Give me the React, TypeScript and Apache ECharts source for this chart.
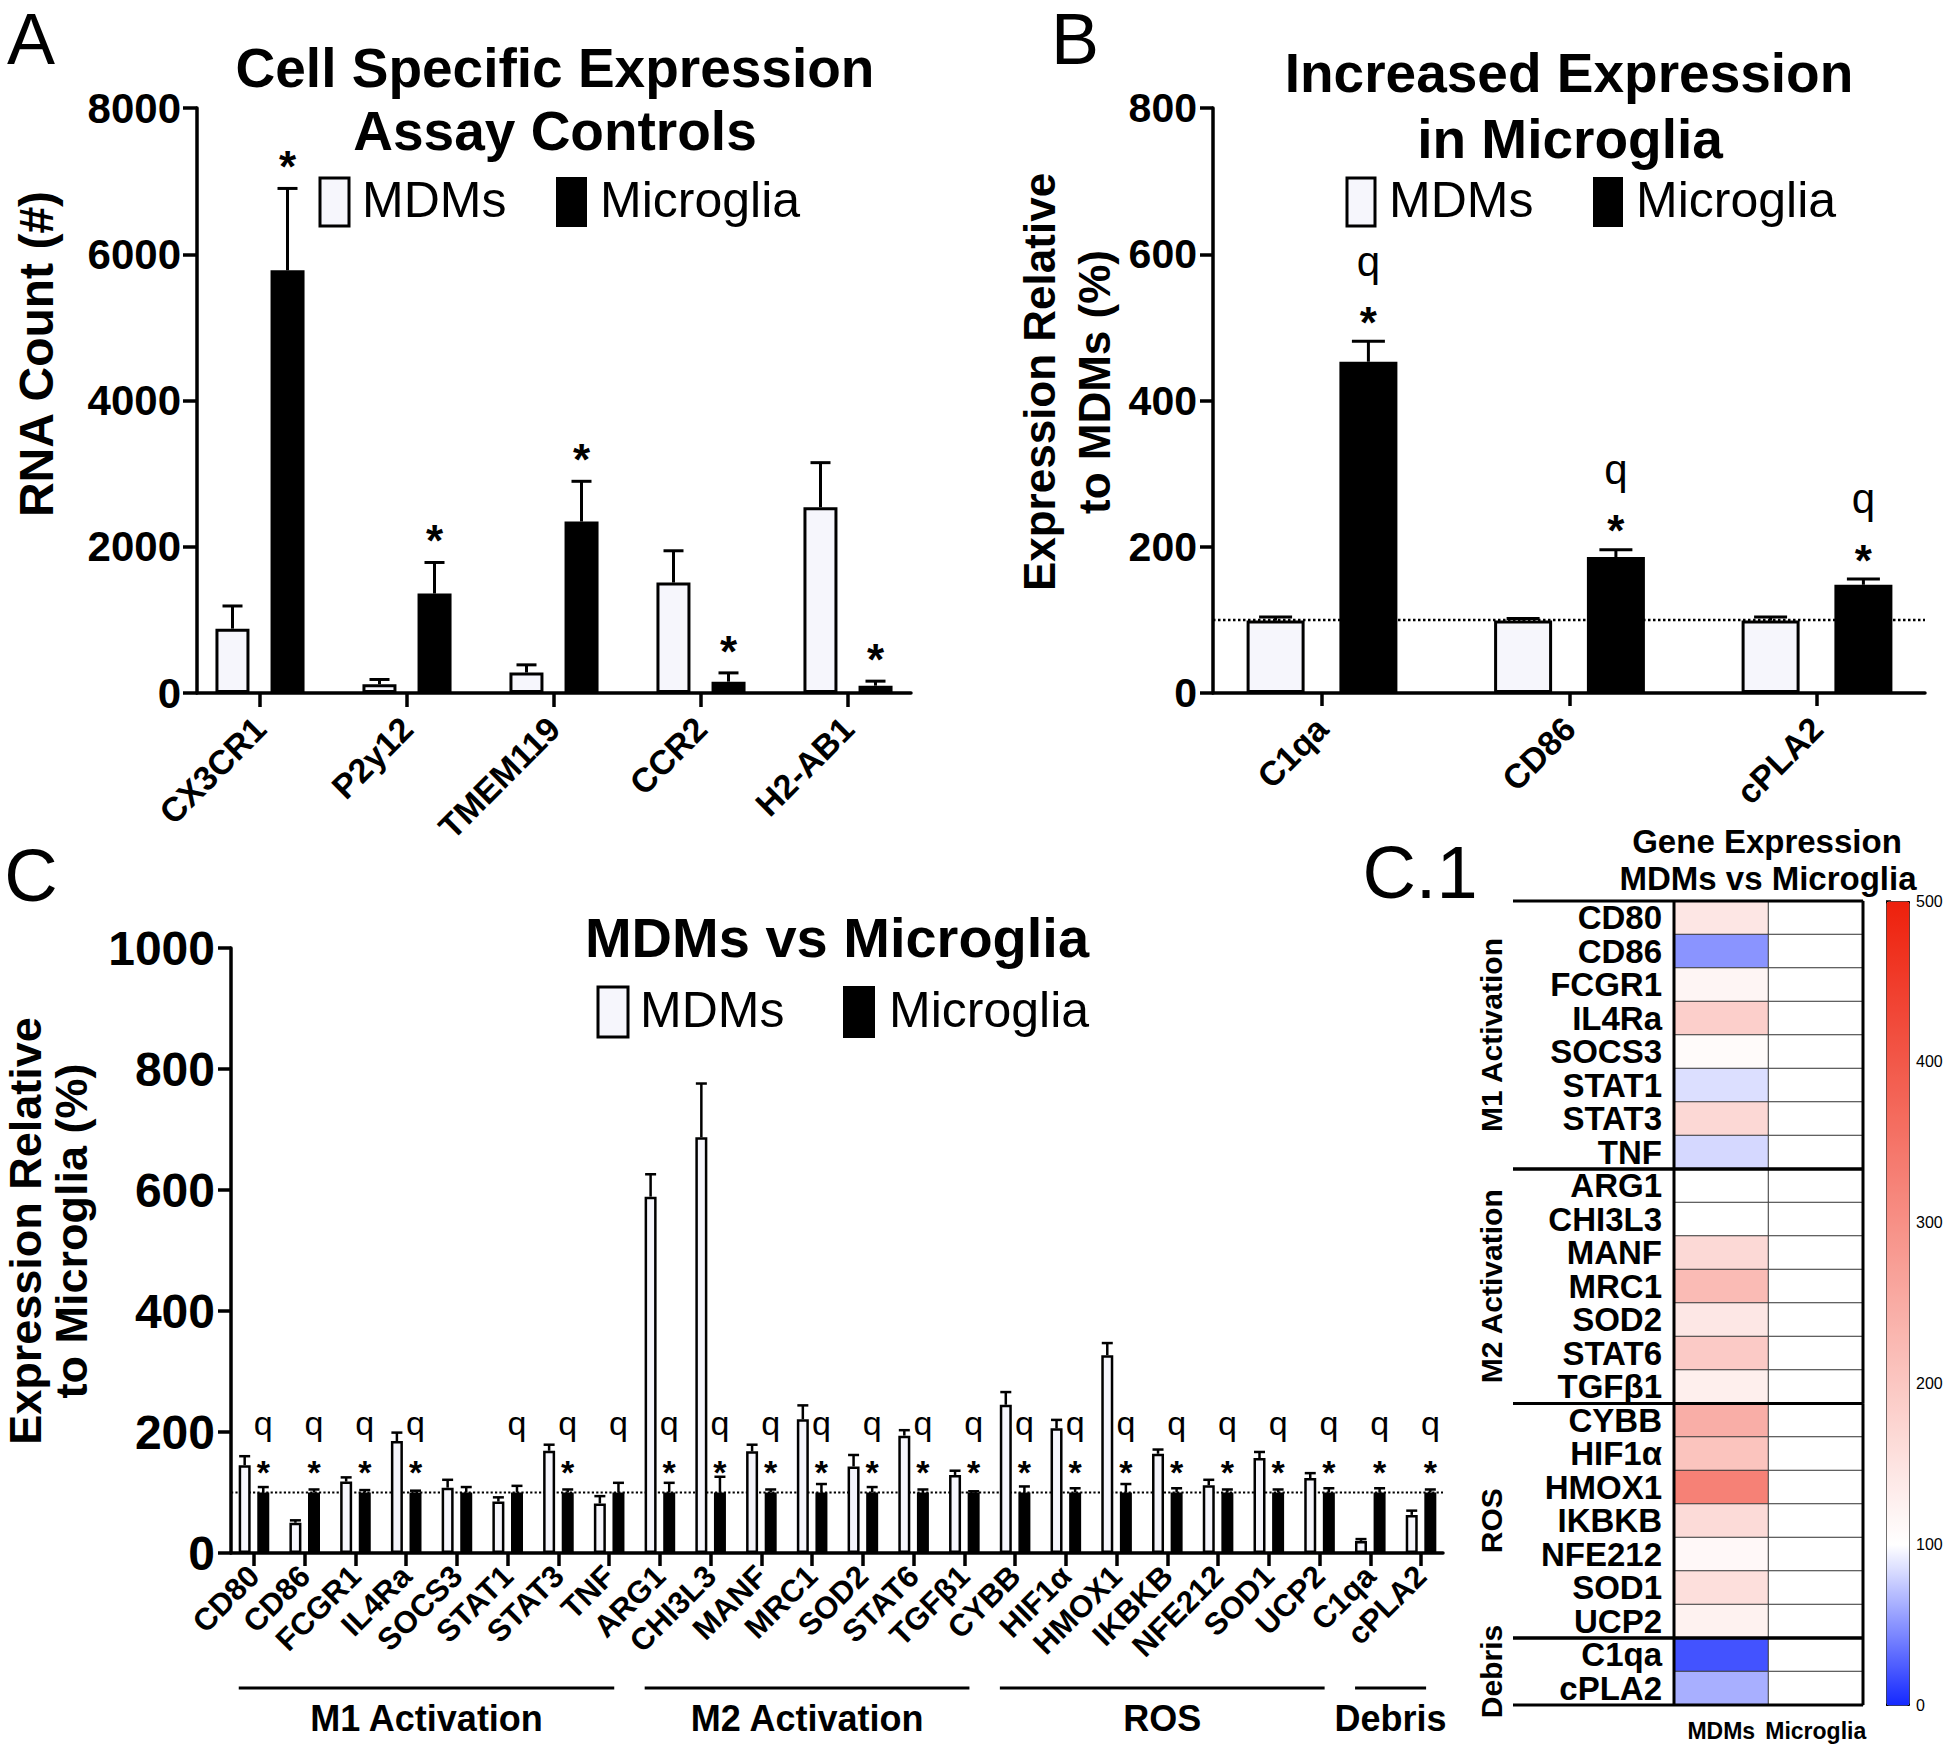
import React, { useEffect, useRef } from 'react';
import * as echarts from 'echarts';

const FONT = "'Liberation Sans', Arial, Helvetica, sans-serif";
const WHITE_FILL = '#f6f6fc';
const BLACK = '#000000';

// ---------- Panel A data ----------
const A_CATEGORIES = ['CX3CR1', 'P2y12', 'TMEM119', 'CCR2', 'H2-AB1'];
const A_MDMS = [880, 120, 280, 1510, 2540];
const A_MDMS_SEM = [310, 65, 105, 435, 610];
const A_MICROGLIA = [5780, 1360, 2345, 155, 100];
const A_MICROGLIA_SEM = [1120, 425, 550, 120, 62];
const A_STAR = [1, 1, 1, 1, 1];
const A_Q = [0, 0, 0, 0, 0];
const A_Y_MAX = 8000;
const A_Y_INTERVAL = 2000;

// ---------- Panel B data ----------
const B_CATEGORIES = ['C1qa', 'CD86', 'cPLA2'];
const B_MDMS = [99, 99, 99];
const B_MDMS_SEM = [5, 3, 5];
const B_MICROGLIA = [453, 186, 148];
const B_MICROGLIA_SEM = [28, 10, 8];
const B_STAR = [1, 1, 1];
const B_Q = [1, 1, 1];
const B_Y_MAX = 800;
const B_Y_INTERVAL = 200;
const REFERENCE_LEVEL = 100;

// ---------- Panel C data ----------
const C_CATEGORIES = ['CD80', 'CD86', 'FCGR1', 'IL4Ra', 'SOCS3', 'STAT1', 'STAT3', 'TNF',
  'ARG1', 'CHI3L3', 'MANF', 'MRC1', 'SOD2', 'STAT6', 'TGFβ1',
  'CYBB', 'HIF1α', 'HMOX1', 'IKBKB', 'NFE212', 'SOD1', 'UCP2',
  'C1qa', 'cPLA2'];
const C_MDMS = [145, 50, 118, 185, 108, 85, 169, 82, 589, 687, 168, 221, 143, 194, 129, 245, 206, 327, 164, 112, 157, 124, 20, 63];
const C_MDMS_SEM = [15, 4, 7, 14, 13, 7, 10, 12, 37, 89, 11, 23, 19, 9, 7, 21, 14, 20, 7, 9, 10, 8, 3, 7];
const C_MICROGLIA = [100, 100, 100, 100, 100, 100, 100, 100, 100, 100, 100, 100, 100, 100, 100, 100, 100, 100, 100, 100, 100, 100, 100, 100];
const C_MICROGLIA_SEM = [9, 5, 4, 3, 9, 11, 5, 16, 16, 26, 5, 14, 9, 5, 2, 10, 7, 14, 7, 5, 5, 7, 7, 5];
const C_Q = [1, 1, 1, 1, 0, 1, 1, 1, 1, 1, 1, 1, 1, 1, 1, 1, 1, 1, 1, 1, 1, 1, 1, 1];
const C_STAR = [1, 1, 1, 1, 0, 0, 1, 0, 1, 1, 1, 1, 1, 1, 1, 1, 1, 1, 1, 1, 1, 1, 1, 1];
const C_Y_MAX = 1000;
const C_Y_INTERVAL = 200;
const C_GROUPS = [
  { name: 'M1 Activation', start: 0, end: 7 },
  { name: 'M2 Activation', start: 8, end: 14 },
  { name: 'ROS', start: 15, end: 21 },
  { name: 'Debris', start: 22, end: 23 },
];

// ---------- Heatmap (C.1) ----------
const HEAT_COLUMNS = ['MDMs', 'Microglia'];
const HEAT_MAX = 500;
const HEAT_INTERVAL = 100;
const HEAT_COLORS = ['#1428ff', '#ffffff', '#fbc7c2', '#f79086', '#f25849', '#ee200c'];

// annotation heights in panel C (value units)
const C_Q_LEVEL = 204;
const C_STAR_LEVEL = 146;

const axisLine = { color: BLACK, width: 3.5 };

function textStyle(text: string, size: number, weight: string, align = 'center', extra: any = {}) {
  return {
    text, fill: BLACK, fontSize: size, fontWeight: weight, fontFamily: FONT,
    align, verticalAlign: 'middle', textAlign: align, textVerticalAlign: 'middle', ...extra,
  };
}

function gText(text: string, x: number, y: number, size: number, weight = 'bold', align = 'center', rotation = 0, extra: any = {}) {
  return { type: 'text', x, y, rotation, silent: true, z: 100, style: textStyle(text, size, weight, align, extra) };
}

function legendItems(x1: number, x2: number, tx1: number, tx2: number, y: number, w: number, h: number) {
  return [
    { type: 'rect', x: x1, y: y - h / 2, shape: { width: w, height: h }, silent: true, z: 100, style: { fill: WHITE_FILL, stroke: BLACK, lineWidth: 3 } },
    gText('MDMs', tx1, y - 2, 50, 'normal', 'left'),
    { type: 'rect', x: x2, y: y - h / 2, shape: { width: w, height: h }, silent: true, z: 100, style: { fill: BLACK, stroke: BLACK, lineWidth: 2 } },
    gText('Microglia', tx2, y - 2, 50, 'normal', 'left'),
  ];
}

function errorSeries(axisIdx: number, means: number[], sems: number[], offset: number, cap: number, lw: number) {
  return {
    type: 'custom', xAxisIndex: axisIdx, yAxisIndex: axisIdx, silent: true, clip: false, z: 3,
    data: means.map((m, i) => [i, m, m + sems[i]]),
    renderItem: (params: any, api: any) => {
      const base = api.coord([api.value(0), api.value(1)]);
      const top = api.coord([api.value(0), api.value(2)]);
      const x = base[0] + offset;
      return {
        type: 'group', children: [
          { type: 'line', shape: { x1: x, y1: base[1], x2: x, y2: top[1] }, style: { stroke: BLACK, lineWidth: lw } },
          { type: 'line', shape: { x1: x - cap / 2, y1: top[1], x2: x + cap / 2, y2: top[1] }, style: { stroke: BLACK, lineWidth: lw } },
        ],
      };
    },
  };
}

function sigSeriesAbove(axisIdx: number, means: number[], sems: number[], stars: number[], qs: number[], cfg: any) {
  return {
    type: 'custom', xAxisIndex: axisIdx, yAxisIndex: axisIdx, silent: true, clip: false, z: 4,
    data: means.map((m, i) => [i, m + sems[i]]),
    renderItem: (params: any, api: any) => {
      const i = params.dataIndex;
      const p = api.coord([api.value(0), api.value(1)]);
      const x = p[0] + cfg.offset;
      const starY = p[1] - cfg.starGap;
      const children: any[] = [];
      if (stars[i]) children.push({ type: 'text', x, y: starY + 0.23 * cfg.starSize, style: textStyle('*', cfg.starSize, 'bold') });
      if (qs[i]) {
        const qY = starY - cfg.qGap;
        children.push({ type: 'text', x, y: qY - 0.19 * cfg.qSize, style: textStyle('q', cfg.qSize, 'normal') });
      }
      return { type: 'group', children };
    },
  };
}

function sigSeriesFixed(axisIdx: number, stars: number[], qs: number[], cfg: any) {
  return {
    type: 'custom', xAxisIndex: axisIdx, yAxisIndex: axisIdx, silent: true, clip: false, z: 4,
    data: stars.map((s, i) => [i, 0]),
    renderItem: (params: any, api: any) => {
      const i = params.dataIndex;
      const ps = api.coord([api.value(0), C_STAR_LEVEL]);
      const pq = api.coord([api.value(0), C_Q_LEVEL]);
      const x = ps[0] + cfg.offset;
      const children: any[] = [];
      if (stars[i]) children.push({ type: 'text', x, y: ps[1] + 0.23 * cfg.starSize, style: textStyle('*', cfg.starSize, 'bold') });
      if (qs[i]) children.push({ type: 'text', x, y: pq[1] - 0.19 * cfg.qSize, style: textStyle('q', cfg.qSize, 'normal') });
      return { type: 'group', children };
    },
  };
}

function categoryAxis(gridIndex: number, data: string[], fontSize: number, tickLen: number, margin: number) {
  return {
    type: 'category', gridIndex, data,
    axisLine: { show: false },
    axisTick: { show: true, alignWithLabel: true, length: tickLen, lineStyle: axisLine },
    axisLabel: { rotate: 45, interval: 0, fontSize, fontWeight: 'bold', color: BLACK, fontFamily: FONT, margin, hideOverlap: false },
    splitLine: { show: false },
  };
}

function lineOnlyXAxis(gridIndex: number) {
  return {
    type: 'value', gridIndex, min: 0, max: 1,
    axisLine: { show: true, onZero: false, lineStyle: axisLine },
    axisTick: { show: false }, axisLabel: { show: false }, splitLine: { show: false },
  };
}

function valueYAxis(gridIndex: number, max: number, interval: number, fontSize: number, tickLen: number) {
  return {
    type: 'value', gridIndex, min: 0, max, interval,
    axisLine: { show: true, lineStyle: axisLine },
    axisTick: { show: true, length: tickLen, lineStyle: axisLine },
    axisLabel: { fontSize, fontWeight: 'bold', color: BLACK, fontFamily: FONT, margin: 16, formatter: (v: number) => String(v) },
    splitLine: { show: false },
  };
}

function hiddenYAxis(gridIndex: number, max: number) {
  return { type: 'value', gridIndex, min: 0, max, show: false };
}

function buildOption() {
  const grids = [
    { left: 186.5, top: 108, width: 735, height: 585 },   // 0 A data
    { left: 197, top: 108, width: 714, height: 585 },     // 1 A axes
    { left: 1198.25, top: 108, width: 742.5, height: 585 }, // 2 B data
    { left: 1213, top: 108, width: 712, height: 585 },    // 3 B axes
    { left: 228.6, top: 948, width: 1217.8, height: 605 }, // 4 C data
    { left: 231, top: 948, width: 1212, height: 605 },    // 5 C axes
    { left: 1674, top: 901, width: 189, height: 804 },    // 6 heatmap
    { left: 1886, top: 901, width: 23, height: 804 },     // 7 colorbar axis
  ].map((g) => ({ ...g, containLabel: false, outerBoundsMode: 'none' }));

  const xAxis: any[] = [
    categoryAxis(0, A_CATEGORIES, 34, 14, 30),
    lineOnlyXAxis(1),
    categoryAxis(2, B_CATEGORIES, 34, 13, 30),
    lineOnlyXAxis(3),
    categoryAxis(4, C_CATEGORIES, 31, 13, 18),
    lineOnlyXAxis(5),
    {
      type: 'category', gridIndex: 6, data: HEAT_COLUMNS,
      axisLine: { show: false }, axisTick: { show: false },
      axisLabel: { fontSize: 23, fontWeight: 'bold', color: BLACK, fontFamily: FONT, margin: 14, interval: 0, hideOverlap: false },
      splitLine: { show: false },
    },
    { type: 'value', gridIndex: 7, min: 0, max: 1, show: false },
  ];

  const yAxis: any[] = [
    hiddenYAxis(0, A_Y_MAX),
    valueYAxis(1, A_Y_MAX, A_Y_INTERVAL, 42, 14),
    hiddenYAxis(2, B_Y_MAX),
    valueYAxis(3, B_Y_MAX, B_Y_INTERVAL, 41, 13),
    hiddenYAxis(4, C_Y_MAX),
    valueYAxis(5, C_Y_MAX, C_Y_INTERVAL, 48, 13),
    {
      type: 'category', gridIndex: 6, data: C_CATEGORIES, inverse: true,
      axisLine: { show: false }, axisTick: { show: false },
      axisLabel: { fontSize: 33, fontWeight: 'bold', color: BLACK, fontFamily: FONT, margin: 12, interval: 0 },
      splitLine: { show: false },
    },
    {
      type: 'value', gridIndex: 7, position: 'right', min: 0, max: HEAT_MAX, interval: HEAT_INTERVAL,
      axisLine: { show: false },
      axisTick: { show: true, length: 5, lineStyle: { color: BLACK, width: 1.5 } },
      axisLabel: { fontSize: 16, color: BLACK, fontFamily: FONT, margin: 7 },
      splitLine: { show: false },
    },
  ];

  const whiteBar = { color: WHITE_FILL, borderColor: BLACK, borderWidth: 3 };
  const series: any[] = [];

  // Panel A
  series.push({ name: 'MDMs', type: 'bar', xAxisIndex: 0, yAxisIndex: 0, data: A_MDMS, barWidth: 34, barGap: '62%', itemStyle: whiteBar, silent: true });
  series.push({ name: 'Microglia', type: 'bar', xAxisIndex: 0, yAxisIndex: 0, data: A_MICROGLIA, barWidth: 34, barGap: '62%', itemStyle: { color: BLACK }, silent: true });
  series.push(errorSeries(0, A_MDMS, A_MDMS_SEM, -27.5, 20, 3));
  series.push(errorSeries(0, A_MICROGLIA, A_MICROGLIA_SEM, 27.5, 20, 3));
  series.push(sigSeriesAbove(0, A_MICROGLIA, A_MICROGLIA_SEM, A_STAR, A_Q, { offset: 27.5, starGap: 32, starSize: 44, qGap: 44, qSize: 42 }));

  // Panel B
  series.push({ type: 'line', xAxisIndex: 3, yAxisIndex: 3, data: [[0, REFERENCE_LEVEL], [1, REFERENCE_LEVEL]], symbol: 'none', silent: true, z: 1, lineStyle: { type: 'dotted', width: 2.5, color: BLACK } });
  series.push({ name: 'MDMs', type: 'bar', xAxisIndex: 2, yAxisIndex: 2, data: B_MDMS, barWidth: 58, barGap: '60%', itemStyle: whiteBar, silent: true });
  series.push({ name: 'Microglia', type: 'bar', xAxisIndex: 2, yAxisIndex: 2, data: B_MICROGLIA, barWidth: 58, barGap: '60%', itemStyle: { color: BLACK }, silent: true });
  series.push(errorSeries(2, B_MDMS, B_MDMS_SEM, -46.4, 33, 3));
  series.push(errorSeries(2, B_MICROGLIA, B_MICROGLIA_SEM, 46.4, 33, 3));
  series.push(sigSeriesAbove(2, B_MICROGLIA, B_MICROGLIA_SEM, B_STAR, B_Q, { offset: 46.4, starGap: 29, starSize: 44, qGap: 43, qSize: 42 }));

  // Panel C
  series.push({ type: 'line', xAxisIndex: 5, yAxisIndex: 5, data: [[0, REFERENCE_LEVEL], [1, REFERENCE_LEVEL]], symbol: 'none', silent: true, z: 1, lineStyle: { type: 'dotted', width: 2.2, color: BLACK } });
  series.push({ name: 'MDMs', type: 'bar', xAxisIndex: 4, yAxisIndex: 4, data: C_MDMS, barWidth: 12, barGap: '55%', itemStyle: { ...whiteBar, borderWidth: 2.5 }, silent: true });
  series.push({ name: 'Microglia', type: 'bar', xAxisIndex: 4, yAxisIndex: 4, data: C_MICROGLIA, barWidth: 12, barGap: '55%', itemStyle: { color: BLACK }, silent: true });
  series.push(errorSeries(4, C_MDMS, C_MDMS_SEM, -9.3, 11, 2.5));
  series.push(errorSeries(4, C_MICROGLIA, C_MICROGLIA_SEM, 9.3, 11, 2.5));
  series.push(sigSeriesFixed(4, C_STAR, C_Q, { offset: 9.3, starSize: 34, qSize: 34 }));
  // group brackets under panel C
  series.push({
    type: 'custom', xAxisIndex: 4, yAxisIndex: 4, silent: true, clip: false, z: 4,
    data: C_GROUPS.map((g) => [g.start, 0, g.end]),
    renderItem: (params: any, api: any) => {
      const band = Math.abs(api.size([1, 0])[0]);
      const p0 = api.coord([api.value(0), 0]);
      const p1 = api.coord([api.value(2), 0]);
      const x1 = p0[0] - 0.3 * band;
      const x2 = p1[0] + 0.1 * band;
      const y = p0[1] + 135;
      return {
        type: 'group', children: [
          { type: 'line', shape: { x1, y1: y, x2, y2: y }, style: { stroke: BLACK, lineWidth: 3 } },
          { type: 'text', x: (x1 + x2) / 2, y: y + 30, style: textStyle(C_GROUPS[params.dataIndex].name, 36, 'bold') },
        ],
      };
    },
  });

  // Heatmap
  const heatData: any[] = [];
  C_CATEGORIES.forEach((_, i) => {
    heatData.push([0, i, C_MDMS[i]]);
    heatData.push([1, i, C_MICROGLIA[i]]);
  });
  const heatIndex = series.length;
  series.push({
    type: 'heatmap', xAxisIndex: 6, yAxisIndex: 6, data: heatData, silent: true,
    itemStyle: { borderColor: '#3a3a3a', borderWidth: 1 },
    emphasis: { disabled: true },
  });
  series.push({
    type: 'custom', xAxisIndex: 6, yAxisIndex: 6, silent: true, clip: false, z: 5,
    data: C_GROUPS.map((g) => [0, g.start, g.end]),
    renderItem: (params: any, api: any) => {
      const cw = Math.abs(api.size([1, 0])[0]);
      const rh = Math.abs(api.size([0, 1])[1]);
      const a = api.coord([0, api.value(1)]);
      const b = api.coord([1, api.value(2)]);
      const left = a[0] - cw / 2;
      const right = b[0] + cw / 2;
      const top = a[1] - rh / 2;
      const bottom = b[1] + rh / 2;
      const ln = (x1: number, y1: number, x2: number, y2: number) => ({ type: 'line', shape: { x1, y1, x2, y2 }, style: { stroke: BLACK, lineWidth: 3 } });
      return {
        type: 'group', children: [
          ln(left - 161, top, right, top),
          ln(left - 161, bottom, right, bottom),
          ln(left, top, left, bottom),
          ln(right, top, right, bottom),
          { type: 'text', x: left - 183, y: (top + bottom) / 2, rotation: Math.PI / 2, style: textStyle(C_GROUPS[params.dataIndex].name, 30, 'bold') },
        ],
      };
    },
  });

  const graphic: any[] = [
    // panel letters
    gText('A', 31, 39, 72, 'normal'),
    gText('B', 1075, 39, 72, 'normal'),
    gText('C', 31, 875, 74, 'normal'),
    gText('C.1', 1420, 872, 74, 'normal'),
    // titles
    gText('Cell Specific Expression', 555, 68, 55),
    gText('Assay Controls', 555, 131, 55),
    gText('Increased Expression', 1569, 73, 55),
    gText('in Microglia', 1570, 139, 55),
    gText('MDMs vs Microglia', 837, 937, 56),
    gText('Gene Expression', 1767, 841, 33),
    gText('MDMs vs Microglia', 1768, 878, 33),
    // y-axis names
    gText('RNA Count (#)', 36, 354, 48, 'bold', 'center', Math.PI / 2),
    gText('Expression Relative\nto MDMs (%)', 1067, 382, 44, 'bold', 'center', Math.PI / 2, { lineHeight: 55 }),
    gText('Expression Relative\nto Microglia (%)', 48, 1231, 45, 'bold', 'center', Math.PI / 2, { lineHeight: 46 }),
    // legends
    ...legendItems(320, 557, 362, 600, 202, 29, 48),
    ...legendItems(1347, 1594, 1389, 1636, 202, 28, 48),
    ...legendItems(598, 844, 640, 889, 1012, 30, 50),
  ];

  return {
    animation: false,
    backgroundColor: '#ffffff',
    textStyle: { fontFamily: FONT },
    grid: grids,
    xAxis,
    yAxis,
    visualMap: {
      type: 'continuous', seriesIndex: heatIndex, min: 0, max: HEAT_MAX, range: [0, HEAT_MAX - 0.01],
      calculable: false,
      left: 1886, top: 901, itemWidth: 23, itemHeight: 804, padding: 0,
      borderColor: BLACK, borderWidth: 1, hoverLink: false,
      inRange: { color: HEAT_COLORS },
      outOfRange: { color: ['#ffffff'] },
    },
    series,
    graphic,
  };
}

export default function App() {
  const ref = useRef<HTMLDivElement>(null);
  useEffect(() => {
    if (!ref.current) return;
    const chart = echarts.init(ref.current, undefined, { renderer: 'svg' });
    chart.setOption(buildOption() as any);
    return () => chart.dispose();
  }, []);
  return (
    <div
      ref={ref}
      style={{ position: 'absolute', left: 0, top: 0, width: 1946, height: 1745, background: '#ffffff' }}
    />
  );
}
